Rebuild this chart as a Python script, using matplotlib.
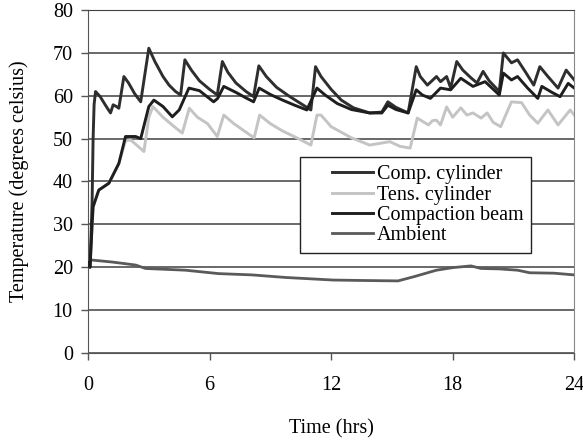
import matplotlib
matplotlib.use("Agg")
import matplotlib.pyplot as plt
from matplotlib.lines import Line2D
from matplotlib.legend_handler import HandlerLine2D

plt.rcParams['font.family'] = ['Liberation Serif', 'DejaVu Serif']

# Comp. cylinder (upper dark line)
comp_t = [0, 0.1, 0.2, 0.25, 0.3, 0.37, 0.6, 0.9, 1.11, 1.24, 1.4, 1.52, 1.77, 2.0, 2.3, 2.6,
          3.0, 3.3, 3.7, 4.0, 4.32, 4.57, 4.78, 5.1, 5.5, 6.0, 6.38, 6.63, 6.9, 7.3, 7.8, 8.17,
          8.43, 8.8, 9.3, 9.9, 10.5, 11.0, 11.23, 11.5, 12.0, 12.5, 13.1, 13.9, 14.5, 14.8,
          15.2, 15.8, 16.2, 16.4, 16.75, 17.2, 17.4, 17.7, 17.9, 18.2, 18.5, 18.9, 19.2, 19.5,
          19.8, 20.3, 20.5, 20.9, 21.2, 21.6, 22.0, 22.3, 22.7, 23.2, 23.6, 24.0]
comp_v = [21, 20, 35, 50, 58, 61, 59.8, 57.5, 56, 57.9, 57.5, 57.1, 64.5, 63, 60.5, 58.6,
          71.1, 68, 64.5, 62.5, 61, 60.2, 68.4, 66, 63.5, 61.5, 60.2, 68, 65.5, 63, 61, 59.8,
          67, 64.5, 62, 60, 58.2, 56.7, 66.8, 64.5, 61.5, 59, 57.2, 56, 56.2, 58.6,
          57.3, 56, 66.8, 64.5, 62.5, 64.5, 63.3, 64.5, 61.8, 68, 66, 64.2, 63, 65.7,
          63.5, 61, 70, 67.7, 68.4, 65.5, 62.5, 66.8, 64.5, 61.8, 66, 63.7]

# Tens. cylinder (light gray)
tens_t = [0, 0.1, 0.2, 0.25, 0.53, 1.03, 1.52, 1.85, 2.1, 2.4, 2.76, 3.0, 3.2, 3.7, 4.2,
          4.65, 5.0, 5.4, 5.9, 6.38, 6.7, 7.2, 7.8, 8.2, 8.47, 9.0, 9.6, 10.3, 11.0, 11.3,
          11.5, 12.0, 13.0, 13.9, 14.9, 15.4, 15.9, 16.25, 16.8, 17.0, 17.2, 17.4, 17.7,
          18.0, 18.4, 18.7, 19.0, 19.4, 19.7, 20.0, 20.37, 20.9, 21.4, 21.8, 22.2, 22.7,
          23.2, 23.8, 24.0]
tens_v = [21, 20, 29.8, 34.1, 38, 39.6, 44.2, 49.5, 49.7, 48.5, 47, 55, 57.5, 55, 53,
          51.3, 57.1, 55, 53.5, 50.5, 55.5, 53.5, 51.5, 50.2, 55.5, 53.5, 51.8, 50.2, 48.5, 55.5,
          55.5, 52.8, 50.2, 48.5, 49.3, 48.2, 47.8, 54.8, 53.2, 54.2, 54.3, 53.2, 57.4,
          55, 57.2, 55.5, 56, 54.8, 56, 53.8, 52.8, 58.6, 58.4, 55.5, 53.6, 56.7,
          53.2, 56.7, 55.5]

# Compaction beam (lower dark line)
beam_t = [0, 0.1, 0.2, 0.25, 0.53, 1.03, 1.52, 1.85, 2.35, 2.6, 3.0, 3.25, 3.7, 4.16, 4.5,
          4.98, 5.5, 6.2, 6.4, 6.7, 7.3, 7.8, 8.17, 8.45, 9.0, 9.6, 10.2, 10.8, 11.3, 11.7,
          12.3, 13.0, 13.9, 14.5, 14.8, 15.2, 15.8, 16.2, 16.5, 16.9, 17.4, 17.9, 18.4,
          19.0, 19.6, 20.3, 20.5, 20.9, 21.2, 21.7, 22.2, 22.4, 22.9, 23.3, 23.7, 24.0]
beam_v = [21, 20, 29.8, 34.1, 38, 39.6, 44.2, 50.5, 50.5, 50, 57.5, 59, 57.5, 55.1, 56.7,
          61.8, 61.2, 58.6, 59.4, 62.2, 60.8, 59.5, 58.6, 61.8, 60.3, 59, 57.8, 56.7, 61.8, 60.2,
          58.2, 56.8, 56, 56, 57.8, 56.8, 56, 61.4, 60.2, 59.4, 61.8, 61.4, 64.1,
          62.2, 63.3, 60.2, 65.3, 63.7, 64.5, 61.8, 59.4, 62.2, 60.8, 59.8, 62.9, 61.8]

# Ambient
amb_t = [0, 0.12, 1.2, 2.35, 2.84, 4.8, 6.45, 8.1, 9.75, 12.1, 13.5, 15.3, 16.1, 17.2,
         18.0, 18.9, 19.4, 20.3, 21.2, 21.8, 23.0, 24.0]
amb_v = [20, 21.7, 21.2, 20.5, 19.7, 19.3, 18.5, 18.2, 17.6, 17.0, 16.9, 16.8, 17.8, 19.3,
         19.9, 20.3, 19.7, 19.6, 19.3, 18.7, 18.6, 18.2]

xticks = [0, 6, 12, 18, 24]
yticks = [0, 10, 20, 30, 40, 50, 60, 70, 80]

fig = plt.figure(figsize=(5.83, 4.40), dpi=100)
ax = fig.add_axes([0.151, 0.198, 0.834, 0.779])

ax.plot(comp_t, comp_v, color='#2e2e2e', lw=2.1, label='Comp. cylinder', zorder=4)
ax.plot(tens_t, tens_v, color='#c4c4c4', lw=2.1, label='Tens. cylinder', zorder=3)
ax.plot(beam_t, beam_v, color='#1e1e1e', lw=2.1, label='Compaction beam', zorder=5)
ax.plot(amb_t, amb_v, color='#5a5a5a', lw=2.0, label='Ambient', zorder=3)

ax.set_xlim(0, 24)
ax.set_ylim(0, 80)
ax.set_xticks(xticks)
ax.set_yticks(yticks)
ax.yaxis.grid(True, color='#404040', lw=1.1)
ax.set_axisbelow(True)
ax.tick_params(direction='out', length=5, color='#555555', labelsize=14.5, width=1)
ax.tick_params(axis='x', pad=12)
ax.tick_params(axis='y', pad=6)
for side in ['left', 'bottom']:
    ax.spines[side].set_color('#555555')
ax.spines['top'].set_color('#404040')
ax.spines['right'].set_color('#888888')

ax.set_xlabel('Time (hrs)', fontsize=14.5, labelpad=17)
ax.set_ylabel('Temperature (degrees celsius)', fontsize=14.5, labelpad=17)

leg = ax.legend(loc='upper left', bbox_to_anchor=(0.436, 0.571), fontsize=14.5,
                fancybox=False, framealpha=1, edgecolor='#222222',
                handlelength=3.2, handletextpad=0.2, labelspacing=0.06,
                borderpad=0.4, borderaxespad=0,
                handler_map={Line2D: HandlerLine2D(xpad=1.2)})
leg.get_frame().set_linewidth(1.0)

fig.savefig('out.png', dpi=100)
